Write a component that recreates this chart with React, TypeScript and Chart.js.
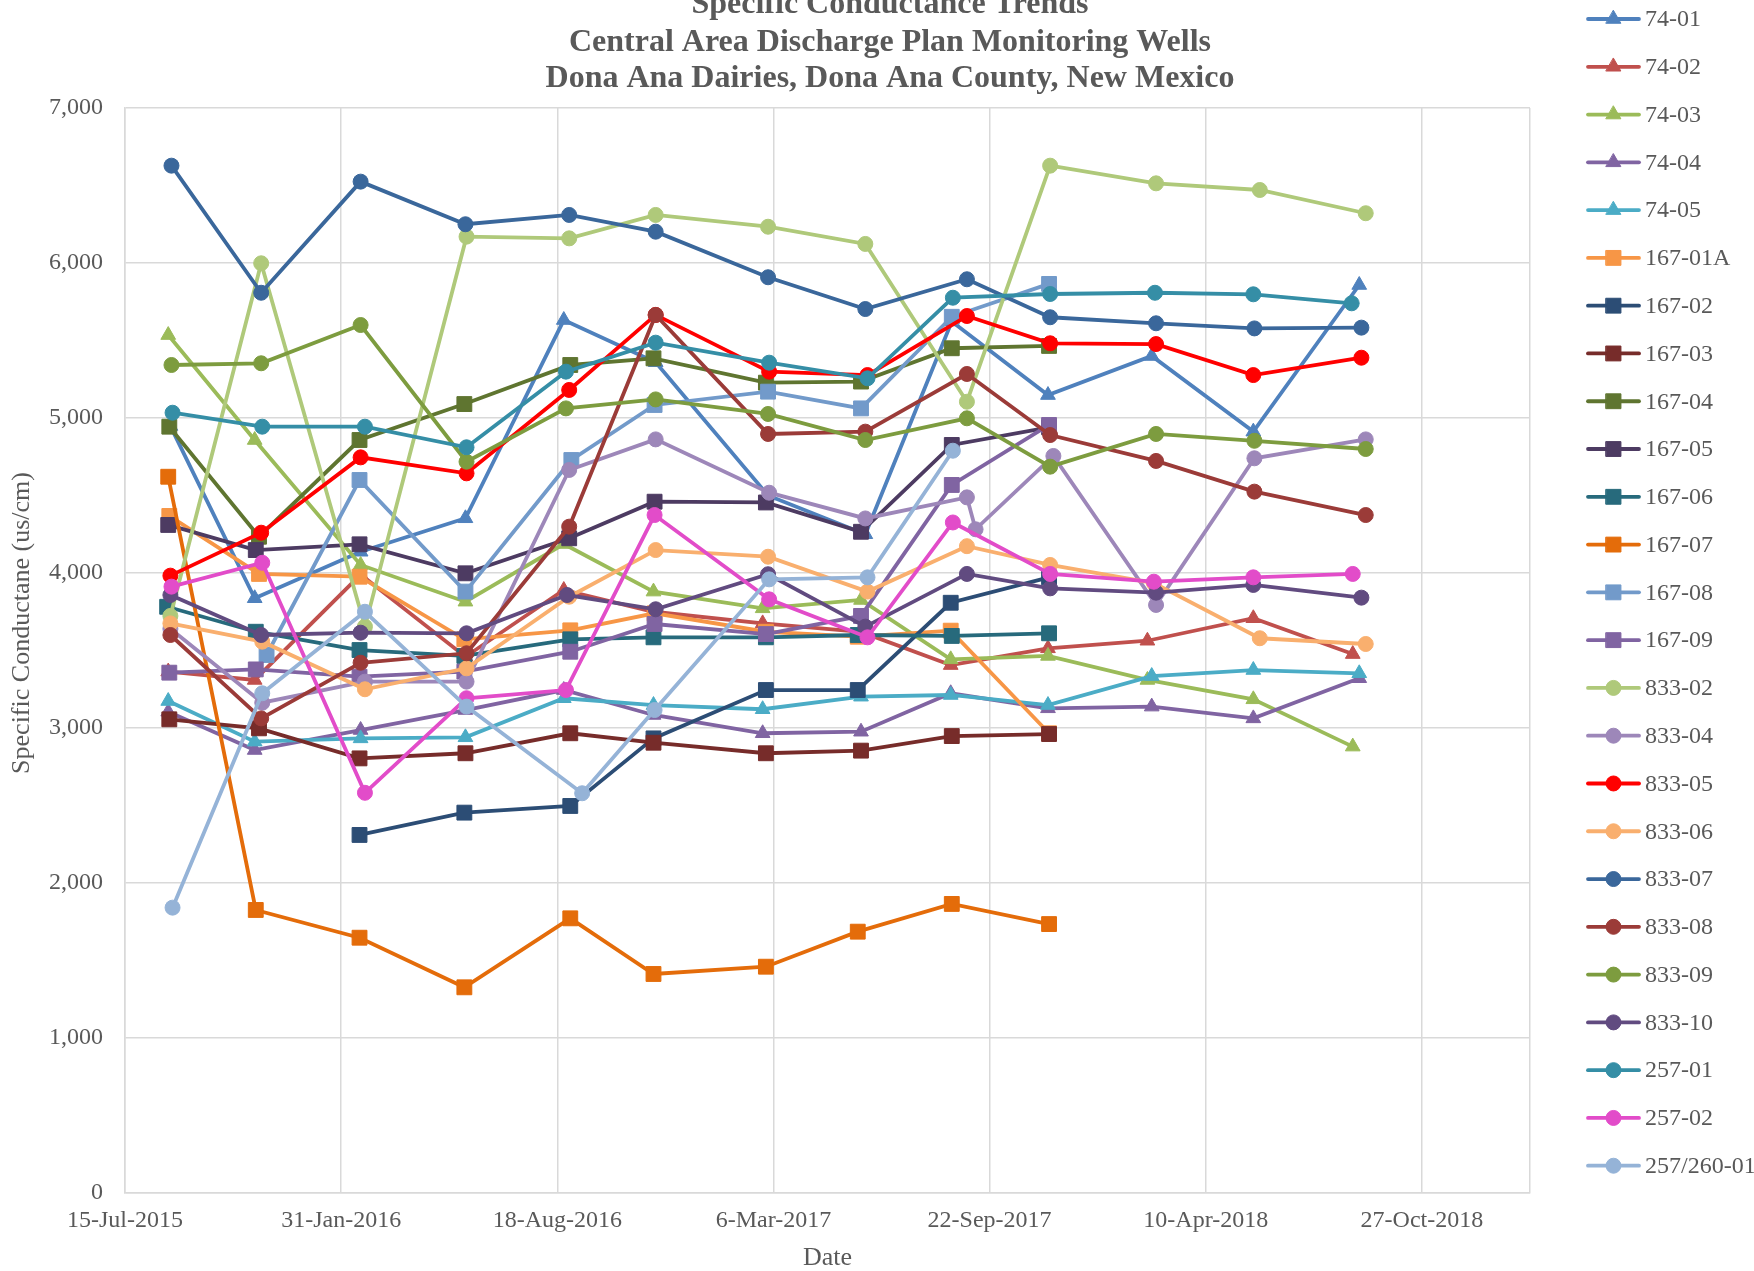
import React, { useEffect, useRef } from 'react';
import { Chart, registerables } from 'chart.js';

Chart.register(...registerables);

type P = [string, number];

// ---- Data: [sample date, specific conductance (us/cm)] ----
const W74_01: P[] = [["2015-08-26",4948],["2015-11-12",3837],["2016-02-18",4137],["2016-05-25",4353],["2016-08-24",5632],["2016-11-17",5360],["2017-03-01",4500],["2017-05-30",4250],["2017-08-18",5623],["2017-11-15",5148],["2018-02-19",5400],["2018-05-24",4912],["2018-08-30",5858]];
const W74_02: P[] = [["2015-08-24",3364],["2015-11-12",3310],["2016-02-18",3990],["2016-05-25",3460],["2016-08-24",3890],["2016-11-15",3750],["2017-02-24",3675],["2017-05-26",3620],["2017-08-17",3406],["2017-11-15",3514],["2018-02-15",3563],["2018-05-24",3708],["2018-08-24",3477]];
const W74_03: P[] = [["2015-08-24",5535],["2015-11-12",4858],["2016-02-18",4052],["2016-05-25",3815],["2016-08-24",4187],["2016-11-15",3880],["2017-02-24",3772],["2017-05-26",3826],["2017-08-17",3443],["2017-11-15",3465],["2018-02-15",3310],["2018-05-24",3185],["2018-08-24",2880]];
const W74_04: P[] = [["2015-08-24",3105],["2015-11-12",2858],["2016-02-18",2987],["2016-05-25",3116],["2016-08-24",3245],["2016-11-15",3084],["2017-02-24",2966],["2017-05-26",2976],["2017-08-17",3224],["2017-11-15",3127],["2018-02-19",3138],["2018-05-24",3062],["2018-08-30",3321]];
const W74_05: P[] = [["2015-08-24",3174],["2015-11-12",2912],["2016-02-18",2933],["2016-05-25",2940],["2016-08-24",3192],["2016-11-15",3148],["2017-02-24",3121],["2017-05-26",3202],["2017-08-17",3213],["2017-11-15",3148],["2018-02-19",3335],["2018-05-24",3374],["2018-08-30",3353]];
const W167_01A: P[] = [["2015-08-25",4368],["2015-11-16",3994],["2016-02-17",3976],["2016-05-24",3572],["2016-08-30",3630],["2016-11-16",3740],["2017-02-27",3621],["2017-05-23",3589],["2017-08-17",3628],["2017-11-16",2966]];
const W167_02: P[] = [["2016-02-17",2310],["2016-05-24",2454],["2016-08-30",2497],["2016-11-15",2933],["2017-02-27",3245],["2017-05-23",3245],["2017-08-17",3808],["2017-11-16",3972]];
const W167_03: P[] = [["2015-08-25",3056],["2015-11-16",2998],["2016-02-17",2804],["2016-05-25",2837],["2016-08-30",2966],["2016-11-15",2905],["2017-02-27",2837],["2017-05-26",2854],["2017-08-18",2948],["2017-11-16",2961]];
const W167_04: P[] = [["2015-08-25",4944],["2015-11-16",4234],["2016-02-17",4858],["2016-05-24",5090],["2016-08-30",5342],["2016-11-15",5385],["2017-02-27",5228],["2017-05-26",5235],["2017-08-18",5450],["2017-11-16",5465]];
const W167_05: P[] = [["2015-08-24",4310],["2015-11-13",4148],["2016-02-17",4185],["2016-05-25",3998],["2016-08-29",4224],["2016-11-16",4460],["2017-02-27",4455],["2017-05-26",4266],["2017-08-18",4826],["2017-11-16",4940]];
const W167_06: P[] = [["2015-08-23",3782],["2015-11-13",3621],["2016-02-17",3503],["2016-05-24",3465],["2016-08-30",3572],["2016-11-15",3585],["2017-02-27",3585],["2017-05-23",3600],["2017-08-18",3594],["2017-11-16",3611]];
const W167_07: P[] = [["2015-08-24",4621],["2015-11-13",1826],["2016-02-17",1647],["2016-05-24",1327],["2016-08-30",1772],["2016-11-15",1413],["2017-02-27",1460],["2017-05-23",1686],["2017-08-18",1865],["2017-11-16",1735]];
const W167_08: P[] = [["2015-11-23",3471],["2016-02-17",4600],["2016-05-25",3880],["2016-08-31",4729],["2016-11-16",5084],["2017-03-01",5170],["2017-05-26",5062],["2017-08-18",5653],["2017-11-16",5865]];
const W167_09: P[] = [["2015-08-25",3357],["2015-11-13",3378],["2016-02-17",3331],["2016-05-24",3364],["2016-08-30",3492],["2016-11-16",3671],["2017-02-27",3606],["2017-05-26",3723],["2017-08-18",4568],["2017-11-16",4955]];
const W833_02: P[] = [["2015-08-26",3723],["2015-11-18",5998],["2016-02-22",3654],["2016-05-26",6170],["2016-08-29",6159],["2016-11-17",6310],["2017-03-01",6234],["2017-05-30",6123],["2017-09-01",5105],["2017-11-17",6628],["2018-02-23",6514],["2018-05-30",6471],["2018-09-05",6321]];
const W833_04: P[] = [["2015-08-26",3640],["2015-11-19",3163],["2016-02-22",3299],["2016-05-26",3299],["2016-08-29",4665],["2016-11-17",4862],["2017-03-02",4518],["2017-05-30",4352],["2017-09-01",4488],["2017-09-09",4282],["2017-11-20",4755],["2018-02-23",3794],["2018-05-25",4740],["2018-09-05",4862]];
const W833_05: P[] = [["2015-08-26",3983],["2015-11-18",4260],["2016-02-18",4746],["2016-05-26",4643],["2016-08-29",5181],["2016-11-17",5665],["2017-03-02",5299],["2017-06-01",5277],["2017-09-01",5658],["2017-11-17",5482],["2018-02-23",5477],["2018-05-24",5277],["2018-09-01",5389]];
const W833_06: P[] = [["2015-08-26",3675],["2015-11-19",3557],["2016-02-22",3250],["2016-05-26",3385],["2016-08-29",3847],["2016-11-17",4148],["2017-03-01",4105],["2017-06-01",3880],["2017-09-01",4173],["2017-11-17",4052],["2018-02-21",3935],["2018-05-30",3579],["2018-09-05",3542]];
const W833_07: P[] = [["2015-08-27",6628],["2015-11-18",5808],["2016-02-18",6525],["2016-05-25",6250],["2016-08-29",6310],["2016-11-17",6202],["2017-03-01",5908],["2017-05-30",5703],["2017-09-01",5895],["2017-11-17",5650],["2018-02-23",5611],["2018-05-25",5578],["2018-09-01",5583]];
const W833_08: P[] = [["2015-08-26",3600],["2015-11-18",3062],["2016-02-18",3421],["2016-05-26",3482],["2016-08-29",4299],["2016-11-17",5665],["2017-03-01",4897],["2017-05-30",4912],["2017-09-01",5284],["2017-11-17",4890],["2018-02-23",4723],["2018-05-25",4525],["2018-09-05",4374]];
const W833_09: P[] = [["2015-08-27",5342],["2015-11-18",5353],["2016-02-18",5600],["2016-05-26",4718],["2016-08-26",5062],["2016-11-17",5120],["2017-03-01",5026],["2017-05-30",4858],["2017-09-01",4998],["2017-11-17",4686],["2018-02-23",4897],["2018-05-25",4853],["2018-09-05",4800]];
const W833_10: P[] = [["2015-08-26",3858],["2015-11-18",3600],["2016-02-18",3615],["2016-05-26",3611],["2016-08-27",3858],["2016-11-17",3766],["2017-03-01",3992],["2017-05-30",3654],["2017-09-01",3994],["2017-11-17",3901],["2018-02-23",3873],["2018-05-24",3923],["2018-09-01",3841]];
const W257_01: P[] = [["2015-08-28",5034],["2015-11-19",4944],["2016-02-22",4944],["2016-05-26",4811],["2016-08-26",5299],["2016-11-17",5486],["2017-03-02",5357],["2017-06-01",5256],["2017-08-19",5776],["2017-11-17",5800],["2018-02-22",5808],["2018-05-24",5798],["2018-08-23",5740]];
const W257_02: P[] = [["2015-08-27",3912],["2015-11-19",4066],["2016-02-22",2582],["2016-05-26",3192],["2016-08-26",3245],["2016-11-16",4374],["2017-03-02",3830],["2017-06-01",3585],["2017-08-19",4326],["2017-11-17",3994],["2018-02-21",3944],["2018-05-24",3972],["2018-08-24",3994]];
const W257_260_01: P[] = [["2015-08-28",1841],["2015-11-19",3224],["2016-02-22",3750],["2016-05-26",3138],["2016-09-10",2579],["2016-11-16",3116],["2017-03-02",3959],["2017-06-01",3972],["2017-08-19",4789]];

const SERIES_NAMES = ["74-01","74-02","74-03","74-04","74-05","167-01A","167-02","167-03","167-04","167-05","167-06","167-07","167-08","167-09","833-02","833-04","833-05","833-06","833-07","833-08","833-09","833-10","257-01","257-02","257/260-01"];
const SERIES_DATA: P[][] = [W74_01,W74_02,W74_03,W74_04,W74_05,W167_01A,W167_02,W167_03,W167_04,W167_05,W167_06,W167_07,W167_08,W167_09,W833_02,W833_04,W833_05,W833_06,W833_07,W833_08,W833_09,W833_10,W257_01,W257_02,W257_260_01];

const X_START = "2015-07-15";
const X_END = "2019-02-04";
const X_STEP_DAYS = 200;
const Y_MIN = 0;
const Y_MAX = 7000;
const Y_STEP = 1000;

const TITLE_LINES = ["Specific Conductance Trends", "Central Area Discharge Plan Monitoring Wells", "Dona Ana Dairies, Dona Ana County, New Mexico"];
const X_TITLE = "Date";
const Y_TITLE = "Specific Conductane (us/cm)";

// ---- Styles ----
const COLORS = ["#4F81BD","#C0504D","#9BBB59","#8064A2","#4BACC6","#F79646","#2C4D75","#772C2A","#5F7530","#4D3B62","#276A7C","#E46C0A","#729ACA","#8064A2","#AFC97A","#9D87B9","#FF0000","#F9AF6E","#3A679B","#9B3B38","#7D9C3F","#614B80","#358EA6","#E24CC9","#95B3D7"];
const MARKERS = ["triangle","triangle","triangle","triangle","triangle","rect","rect","rect","rect","rect","rect","rect","rect","rect","circle","circle","circle","circle","circle","circle","circle","circle","circle","circle","circle"];
const MARKER_R: Record<string, number> = { circle: 7.5, rect: 10.5, triangle: 8.5 };

const FONT = "'Liberation Serif', 'Times New Roman', serif";
const TEXT = "#595959";
const GRID = "#D9D9D9";

const W = 1754, H = 1271;
const AREA = { left: 125, right: 1530, top: 108, bottom: 1193 };

const MON = ["Jan","Feb","Mar","Apr","May","Jun","Jul","Aug","Sep","Oct","Nov","Dec"];
const EPOCH = Date.UTC(1899, 11, 30);
function toSerial(iso: string): number {
  const [y, m, d] = iso.split("-").map(Number);
  return Math.round((Date.UTC(y, m - 1, d) - EPOCH) / 86400000);
}
function fmtSerial(s: number): string {
  const dt = new Date(EPOCH + s * 86400000);
  return `${dt.getUTCDate()}-${MON[dt.getUTCMonth()]}-${dt.getUTCFullYear()}`;
}

function drawMarker(ctx: CanvasRenderingContext2D, style: string, x: number, y: number, r: number) {
  ctx.beginPath();
  if (style === "circle") {
    ctx.arc(x, y, r, 0, Math.PI * 2);
  } else if (style === "rect") {
    const s = Math.SQRT1_2 * r;
    ctx.rect(x - s, y - s, 2 * s, 2 * s);
  } else {
    let a = 0;
    ctx.moveTo(x + Math.sin(a) * r, y - Math.cos(a) * r);
    a += (2 * Math.PI) / 3;
    ctx.lineTo(x + Math.sin(a) * r, y - Math.cos(a) * r);
    a += (2 * Math.PI) / 3;
    ctx.lineTo(x + Math.sin(a) * r, y - Math.cos(a) * r);
    ctx.closePath();
  }
  ctx.fill();
  ctx.stroke();
}

const decorPlugin = {
  id: "decor",
  afterDraw(chart: any) {
    const ctx: CanvasRenderingContext2D = chart.ctx;
    ctx.save();
    // Title
    ctx.fillStyle = TEXT;
    ctx.textAlign = "center";
    ctx.textBaseline = "alphabetic";
    ctx.font = `bold 32px ${FONT}`;
    const baselines = [13, 51, 87];
    TITLE_LINES.forEach((t, i) => ctx.fillText(t, 890, baselines[i]));
    // Axis titles
    ctx.font = `26px ${FONT}`;
    ctx.textBaseline = "middle";
    ctx.fillText(X_TITLE, (AREA.left + AREA.right) / 2, 1258);
    ctx.save();
    ctx.translate(22, 623);
    ctx.rotate(-Math.PI / 2);
    ctx.fillText(Y_TITLE, 0, 0);
    ctx.restore();
    // Legend
    ctx.textAlign = "left";
    ctx.font = `24px ${FONT}`;
    SERIES_NAMES.forEach((name, i) => {
      const y = 19 + 47.78 * i;
      ctx.strokeStyle = COLORS[i];
      ctx.lineWidth = 3.8;
      ctx.lineCap = "round";
      ctx.beginPath();
      ctx.moveTo(1588, y);
      ctx.lineTo(1639, y);
      ctx.stroke();
      ctx.fillStyle = COLORS[i];
      ctx.lineWidth = 1;
      drawMarker(ctx, MARKERS[i], 1613.5, y, MARKER_R[MARKERS[i]]);
      ctx.fillStyle = TEXT;
      ctx.fillText(name, 1645, y + 1);
    });
    ctx.restore();
  },
};

export default function App() {
  const ref = useRef<HTMLCanvasElement | null>(null);
  useEffect(() => {
    document.body.style.margin = "0";
    const canvas = ref.current;
    if (!canvas) return;
    const n = SERIES_NAMES.length;
    const datasets = SERIES_NAMES.map((name, i) => ({
      label: name,
      data: SERIES_DATA[i].map(([d, v]) => ({ x: toSerial(d), y: v })),
      borderColor: COLORS[i],
      backgroundColor: COLORS[i],
      pointBackgroundColor: COLORS[i],
      pointBorderColor: COLORS[i],
      borderWidth: 3.8,
      pointStyle: MARKERS[i],
      pointRadius: MARKER_R[MARKERS[i]],
      pointBorderWidth: 1,
      tension: 0,
      fill: false,
      order: n - i,
    }));
    const xMin = toSerial(X_START);
    const xMax = toSerial(X_END);
    const chart = new Chart(canvas, {
      type: "line",
      data: { datasets } as any,
      options: {
        animation: false,
        responsive: false,
        maintainAspectRatio: false,
        devicePixelRatio: 1,
        layout: { padding: { left: 0, right: W - AREA.right, top: AREA.top, bottom: 0 } },
        plugins: { legend: { display: false }, title: { display: false }, tooltip: { enabled: false } },
        scales: {
          x: {
            type: "linear",
            min: xMin,
            max: xMax,
            afterFit: (s: any) => { s.height = H - AREA.bottom; },
            ticks: {
              stepSize: X_STEP_DAYS,
              autoSkip: false,
              maxRotation: 0,
              padding: 13,
              color: TEXT,
              font: { family: FONT, size: 24 },
              callback: (v: any) => ((Number(v) - xMin) % X_STEP_DAYS === 0 ? fmtSerial(Number(v)) : ""),
            },
            grid: { color: GRID, lineWidth: 1.5, drawTicks: false },
            border: { color: GRID, width: 1.5 },
          },
          y: {
            min: Y_MIN,
            max: Y_MAX,
            afterFit: (s: any) => { s.width = AREA.left; },
            ticks: {
              stepSize: Y_STEP,
              padding: 22,
              color: TEXT,
              font: { family: FONT, size: 24 },
              callback: (v: any) => Number(v).toLocaleString("en-US"),
            },
            grid: { color: GRID, lineWidth: 1.5, drawTicks: false },
            border: { color: GRID, width: 1.5 },
          },
        },
      } as any,
      plugins: [decorPlugin],
    });
    return () => chart.destroy();
  }, []);
  return (
    <div style={{ width: W, height: H, background: "#fff" }}>
      <canvas ref={ref} width={W} height={H} style={{ display: "block", width: W, height: H }} />
    </div>
  );
}
